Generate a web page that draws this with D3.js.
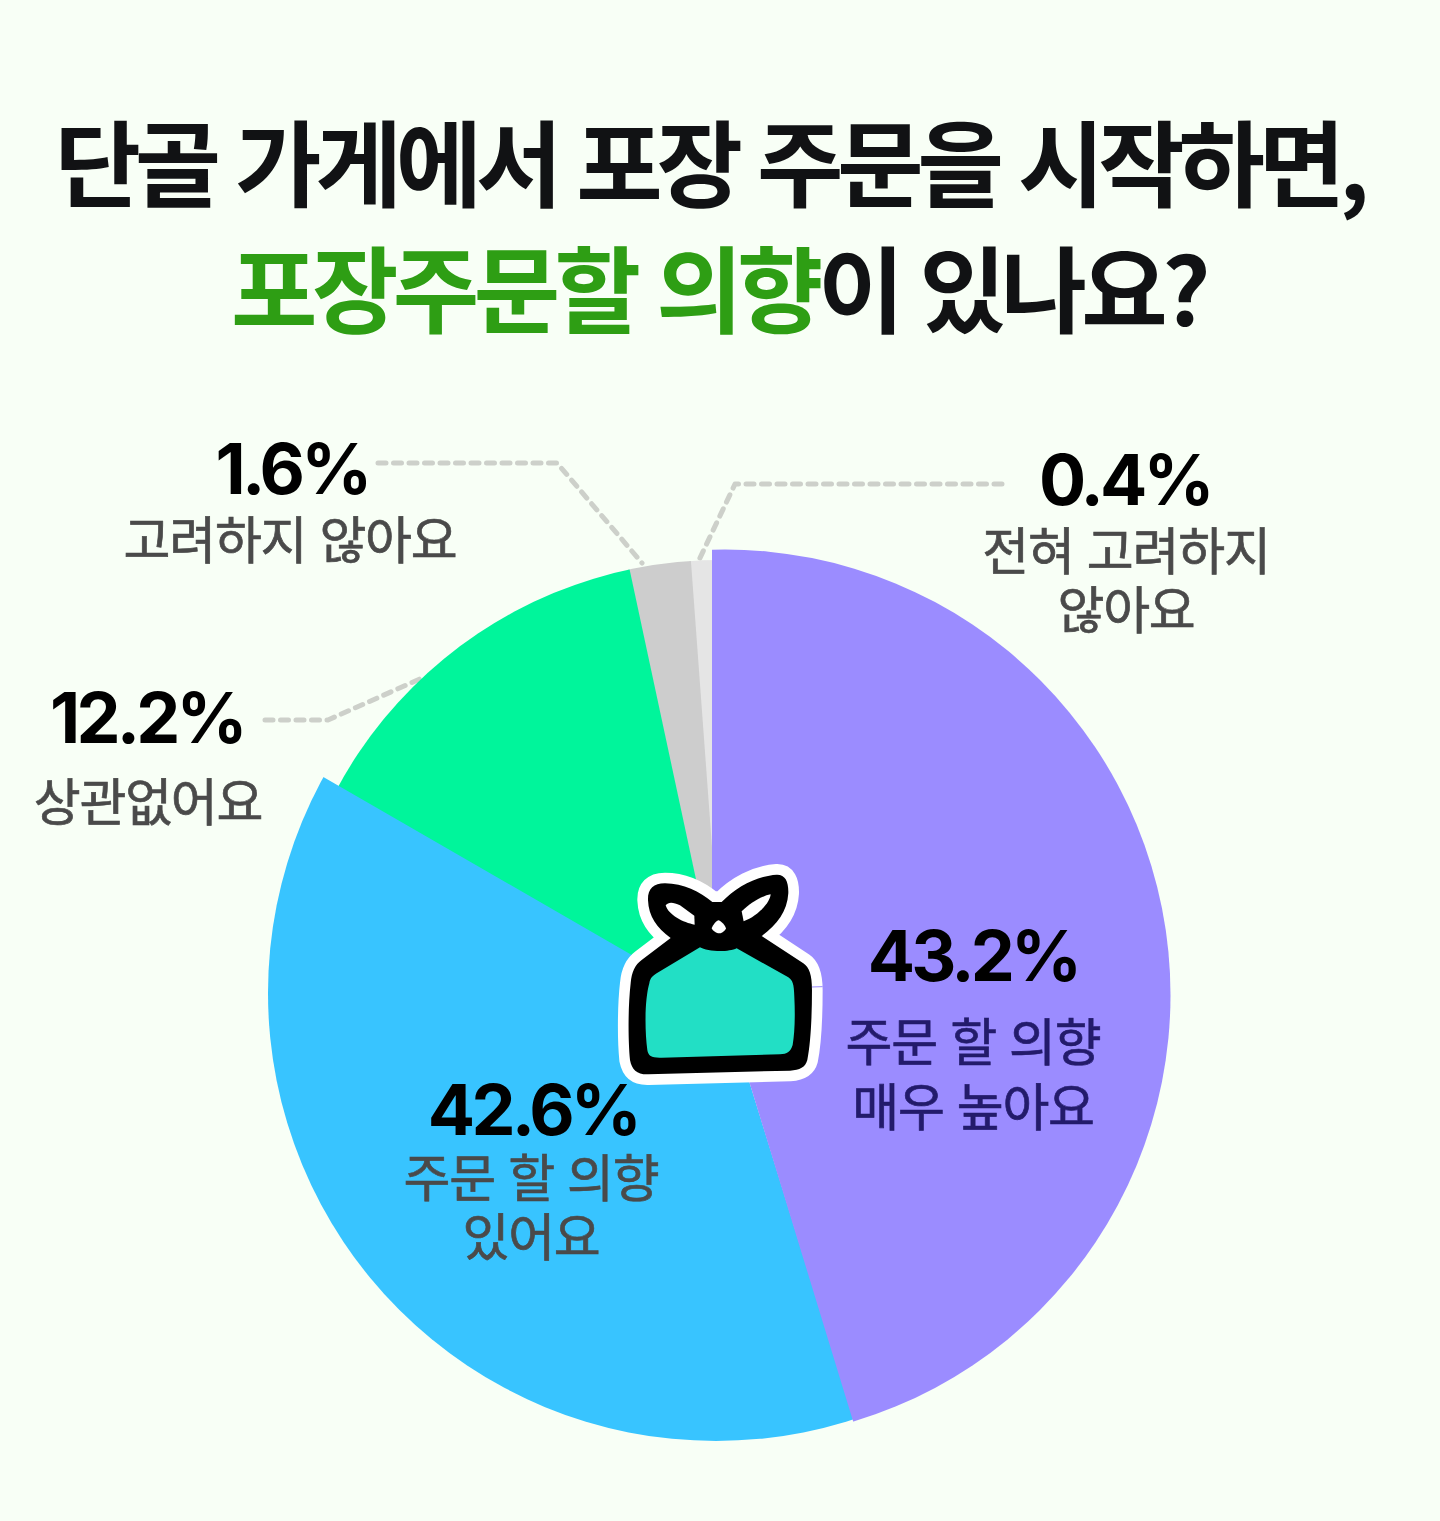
<!DOCTYPE html>
<html lang="ko">
<head>
<meta charset="utf-8">
<script src="https://cdn.jsdelivr.net/npm/d3@7"></script>
<style>
  html, body { margin: 0; padding: 0; background: #F8FFF6; }
  svg { display: block; }
  .title { font-family: "Noto Sans CJK KR"; font-weight: 700; font-size: 94px; text-anchor: middle; }
  .pct { font-family: Inter; font-weight: 700; font-size: 70px; letter-spacing: -3.8px; text-anchor: middle; fill: #000; }
  .lab { font-family: "Noto Sans CJK KR"; font-weight: 400; font-size: 51px; letter-spacing: -1.2px; text-anchor: middle; stroke-width: 0.7px; }
</style>
</head>
<body>
<svg width="1440" height="1521"></svg>
<script>
// data
const categories = ["주문 할 의향 매우 높아요", "주문 할 의향 있어요", "상관없어요", "고려하지 않아요", "전혀 고려하지 않아요"];
const percents = [43.2, 42.6, 12.2, 1.6, 0.4];
// the wedges in the picture are not to scale, these are the shares as drawn
const drawnShares = [45.28, 38.06, 13.31, 2.19, 1.17];
const labelLines = [["주문 할 의향", "매우 높아요"], ["주문 할 의향", "있어요"], ["상관없어요"], ["고려하지 않아요"], ["전혀 고려하지", "않아요"]];
const titleLine1 = "단골 가게에서 포장 주문을 시작하면,";
const titleGreen = "포장주문할 의향";
const titleRest = "이 있나요?";

// layout, same order as categories
const colors = ["#9B8CFF", "#38C4FF", "#00F59B", "#CDCDCD", "#E5E5E5"];
const labelColors = ["#231B6B", "#4A4A4A", "#4A4A4A", "#4A4A4A", "#4A4A4A"];
const apex = [[712, 960], [727, 1010], [724, 1010], [724, 1010], [724, 1010]];
const disc = [[725, 995, 445.5], [716, 993, 448], [720, 995, 435], [720, 995, 435], [720, 995, 435]];
const drawOrder = [4, 3, 2, 1, 0];
const pctPos = [[973, 981], [533, 1135], [147, 743], [292, 494], [1125, 505]];
const labelPos = [[973, [1061, 1126]], [531, [1197, 1256]], [148, [821]], [290, [559]], [1126, [570, 629]]];
const leaders = [
  [[265, 720], [328, 720], [422, 678]],
  [[378, 463], [557, 463], [642, 563]],
  [[1002, 484], [735, 484], [699, 560]]
];

const svg = d3.select("svg");
svg.append("rect").attr("width", 1440).attr("height", 1521).attr("fill", "#F8FFF6");

// title
svg.append("text").attr("class", "title").attr("x", 709).attr("y", 200)
  .attr("letter-spacing", -6.2).attr("fill", "#111214").text(titleLine1);
const t2 = svg.append("text").attr("class", "title").attr("x", 718).attr("y", 326)
  .attr("letter-spacing", -5.6).attr("fill", "#111214");
t2.append("tspan").attr("fill", "#2E9E14").text(titleGreen);
t2.append("tspan").text(titleRest);

// leader lines go under the pie
const line = d3.line();
svg.selectAll(".leader").data(leaders).join("path")
  .attr("class", "leader")
  .attr("d", line)
  .attr("fill", "none")
  .attr("stroke", "#CDD0CA")
  .attr("stroke-width", 5)
  .attr("stroke-linecap", "round")
  .attr("stroke-linejoin", "round")
  .attr("stroke-dasharray", "8 7.5");

// pie: each wedge is used as a clip over its own circle
const pie = d3.pie().value(d => d).sort(null);
const arcs = pie(drawnShares);
const wedge = d3.arc().innerRadius(0).outerRadius(1300);
const defs = svg.append("defs");
arcs.forEach((a, i) => {
  // tuck the start edge under the slice above it so no seam shows
  const overlap = i === 0 ? 0 : 0.004;
  defs.append("clipPath").attr("id", "wedge" + i)
    .append("path")
    .attr("transform", `translate(${apex[i][0]},${apex[i][1]})`)
    .attr("d", wedge({ startAngle: a.startAngle - overlap, endAngle: a.endAngle }));
});
drawOrder.forEach(i => {
  svg.append("circle")
    .attr("cx", disc[i][0])
    .attr("cy", disc[i][1])
    .attr("r", disc[i][2])
    .attr("fill", colors[i])
    .attr("clip-path", `url(#wedge${i})`);
});

// gift icon
const icon = svg.append("g").attr("transform", "translate(600,850) scale(0.3333)");
const outer = "M212 264 C170 232 146 200 144 150 C143 118 160 100 195 100 C250 100 300 125 337 156 L365 156 C410 110 470 78 530 74 C556 73 566 95 565 130 C562 185 530 225 485 258 L610 340 C628 352 636 375 636 420 C636 500 632 580 622 630 C616 652 600 660 570 662 L145 673 C110 674 96 660 90 630 C84 570 84 470 92 400 C95 365 105 345 125 330 Z";
icon.append("path").attr("d", outer).attr("fill", "#fff").attr("stroke", "#fff").attr("stroke-width", 64).attr("stroke-linejoin", "round");
icon.append("path").attr("d", outer).attr("fill", "#000");
icon.append("path")
  .attr("d", "M300 292 C320 305 385 308 410 295 L565 382 C578 392 582 400 583 440 C586 500 584 550 578 585 C572 605 562 612 540 613 L185 623 C155 624 145 618 142 600 C134 540 134 450 148 400 C150 385 158 378 170 370 Z")
  .attr("fill", "#22DFC5");
[
  "M197 166 C205 155 220 156 240 166 L283 197 L284 224 C250 218 205 195 197 166 Z",
  "M425 184 C450 160 485 138 512 133 C510 160 470 200 431 214 Z",
  "M335 235 C340 222 350 212 356 211 C364 214 376 226 378 236 C372 246 362 251 354 250 C346 248 338 242 335 235 Z"
].forEach(d => icon.append("path").attr("d", d).attr("fill", "#fff"));
icon.append("path").attr("d", "M636 411 L668 410").attr("stroke", "#9B8CFF").attr("stroke-width", 3);

// labels
percents.forEach((p, i) => {
  svg.append("text").attr("class", "pct")
    .attr("x", pctPos[i][0]).attr("y", pctPos[i][1])
    .text(p.toFixed(1) + "%");
  labelLines[i].forEach((s, j) => {
    svg.append("text").attr("class", "lab")
      .attr("x", labelPos[i][0]).attr("y", labelPos[i][1][j])
      .attr("fill", labelColors[i])
      .attr("stroke", labelColors[i])
      .text(s);
  });
});
</script>
</body>
</html>
